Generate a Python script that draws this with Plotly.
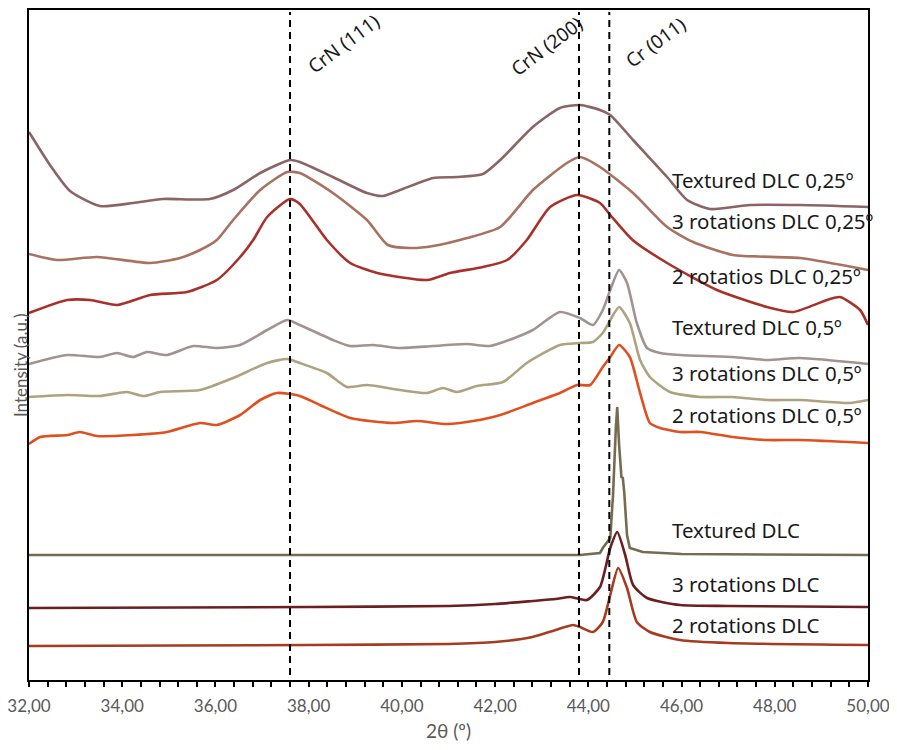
import plotly.graph_objects as go

# ---------------- data (2θ in degrees, intensity in arbitrary units) ----------------
tex025_x = [32.00, 32.45, 32.88, 33.52, 34.23, 34.87, 35.88, 36.38, 36.96, 37.60, 37.81, 38.52, 39.25, 39.60,
            39.96, 40.67, 41.18, 41.74, 42.11, 42.81, 43.39, 43.82, 44.25, 44.47, 44.96, 45.69, 46.12, 46.61,
            47.47, 48.54, 50.00]
tex025_y = [548, 515, 489, 474, 477, 481, 481, 490, 507, 520, 518, 503, 487, 484,
            490, 502, 503, 506, 520, 553, 572, 575, 570, 565, 540, 503, 480, 471,
            475, 475, 473]

rot3025_x = [32.00, 32.60, 33.46, 34.60, 35.24, 35.67, 36.03, 36.38, 36.96, 37.54, 37.81, 38.52, 39.25, 39.70,
             40.17, 40.67, 41.40, 42.11, 42.81, 43.54, 43.82, 44.25, 44.96, 45.69, 46.25, 47.10, 48.54, 50.00]
rot3025_y = [426, 420, 423, 417, 422, 430, 440, 460, 490, 508, 507, 487, 460, 435,
             432, 434, 442, 453, 490, 517, 523, 513, 487, 453, 438, 425, 422, 410]

rot2025_x = [32.00, 32.82, 33.31, 33.89, 34.60, 35.39, 36.03, 36.53, 36.81, 37.11, 37.60, 37.81, 38.39, 38.89,
             39.47, 40.54, 41.03, 41.74, 42.26, 42.68, 43.18, 43.76, 44.25, 44.47, 44.95, 45.69, 46.76, 47.83,
             48.39, 49.12, 49.40, 49.83, 50.00]
rot2025_y = [367, 380, 380, 375, 385, 388, 400, 423, 440, 463, 481, 476, 440, 417,
             407, 400, 407, 413, 420, 440, 473, 485, 477, 465, 440, 417, 390, 373,
             368, 380, 383, 370, 355]

tex05_x = [32.00, 32.82, 33.52, 33.89, 34.23, 34.53, 34.96, 35.52, 36.03, 36.53, 37.11, 37.54, 37.81, 38.52,
           38.89, 39.38, 39.96, 40.67, 41.40, 41.89, 42.47, 42.81, 43.39, 43.82, 44.10, 44.31, 44.47, 44.66,
           44.83, 45.04, 45.26, 45.54, 45.97, 47.10, 47.83, 48.54, 50.00]
tex05_y = [316, 325, 323, 327, 323, 328, 325, 334, 332, 335, 350, 360, 355, 340,
           334, 335, 332, 334, 336, 334, 343, 350, 368, 362, 355, 370, 390, 410,
           397, 357, 332, 327, 325, 323, 320, 322, 316]

rot305_x = [32.00, 32.82, 33.52, 34.10, 34.45, 34.81, 35.67, 36.38, 37.11, 37.54, 37.81, 38.39, 38.82, 39.25,
            39.96, 40.54, 40.88, 41.18, 41.61, 42.17, 42.68, 43.39, 43.82, 44.10, 44.31, 44.47, 44.66, 44.89,
            45.11, 45.32, 45.75, 46.40, 47.10, 47.83, 48.54, 49.61, 50.00]
rot305_y = [283, 285, 284, 288, 284, 288, 290, 302, 317, 321, 317, 307, 293, 295,
            290, 287, 292, 288, 294, 298, 317, 335, 337, 338, 347, 360, 373, 357,
            320, 303, 288, 283, 283, 280, 280, 277, 280]

rot205_x = [32.00, 32.24, 32.82, 33.09, 33.46, 34.23, 34.96, 35.67, 36.03, 36.53, 36.96, 37.32, 37.81, 38.24,
            38.89, 39.81, 40.32, 40.97, 41.53, 42.11, 42.81, 43.39, 43.76, 44.04, 44.31, 44.47, 44.66, 44.89,
            45.11, 45.32, 45.54, 45.97, 46.40, 47.10, 47.83, 48.54, 50.00]
rot205_y = [236, 243, 245, 248, 244, 245, 248, 257, 255, 265, 280, 287, 284, 275,
            262, 257, 259, 256, 259, 265, 277, 287, 295, 295, 313, 323, 335, 323,
            287, 257, 252, 248, 248, 243, 240, 240, 237]

tex_x = [32.00, 40.00, 43.00, 43.82, 44.25, 44.31, 44.47, 44.53, 44.59, 44.62, 44.66,
         44.71, 44.74, 44.77, 44.83, 44.89, 45.17, 46.00, 50.00]
tex_y = [125, 125, 125, 125, 127, 132, 142, 185, 252, 273, 235,
         203, 202, 188, 145, 132, 128, 126, 125]

rot3_x = [32.00, 38.00, 41.00, 42.00, 42.80, 43.30, 43.60, 43.97, 44.25, 44.47, 44.62, 44.79, 44.96, 45.26,
          45.97, 47.00, 50.00]
rot3_y = [72, 73, 74, 76, 79, 81, 83, 80, 93, 132, 148, 125, 95, 82,
          75, 74, 73]

rot2_x = [32.00, 38.00, 41.00, 42.00, 42.80, 43.30, 43.67, 43.82, 44.10, 44.31, 44.47, 44.64, 44.83, 45.04,
          45.32, 45.97, 47.00, 50.00]
rot2_y = [34, 35, 36, 38, 43, 50, 55, 53, 48, 58, 85, 112, 92, 58,
          48, 40, 37, 35]

series_names = ["Textured DLC 0,25º", "3 rotations DLC 0,25º", "2 rotatios DLC 0,25º",
                "Textured DLC 0,5º", "3 rotations DLC 0,5º", "2 rotations DLC 0,5º",
                "Textured DLC", "3 rotations DLC", "2 rotations DLC"]
series_x = [tex025_x, rot3025_x, rot2025_x, tex05_x, rot305_x, rot205_x, tex_x, rot3_x, rot2_x]
series_y = [tex025_y, rot3025_y, rot2025_y, tex05_y, rot305_y, rot205_y, tex_y, rot3_y, rot2_y]
label_y = [500, 459, 404, 353, 307, 265, 150, 96, 55]

peak_names = ["CrN (111)", "CrN (200)", "Cr (011)"]
peak_pos = [37.60, 43.80, 44.45]
peak_label_x = [38.74, 43.11, 45.45]
peak_label_y = [636, 634, 638]

tick_vals = [32, 34, 36, 38, 40, 42, 44, 46, 48, 50]
tick_text = ["32,00", "34,00", "36,00", "38,00", "40,00", "42,00", "44,00", "46,00", "48,00", "50,00"]

# ---------------- styles ----------------
colors = ["#8C6466", "#A87160", "#A8322A", "#A29292", "#AFA27F", "#E0501F", "#756B50", "#6B1F1F", "#A63B1F"]
AXFONT = "Lato"
LBLFONT = "Noto Sans"

fig = go.Figure()
for i, (name, xs, ys) in enumerate(zip(series_names, series_x, series_y)):
    shape = "linear" if i == 6 else "spline"
    fig.add_trace(go.Scatter(
        x=xs, y=ys, mode="lines", name=name,
        line=dict(color=colors[i], width=2.6, shape=shape, smoothing=0.6),
        showlegend=False, hoverinfo="skip"))

for p in peak_pos:
    fig.add_shape(type="line", xref="x", yref="y", x0=p, x1=p, y0=5, y1=668,
                  line=dict(color="black", width=2, dash="7px,5px"))

for name, xl, yl in zip(peak_names, peak_label_x, peak_label_y):
    fig.add_annotation(x=xl, y=yl, xref="x", yref="y", text=name, showarrow=False,
                       textangle=-37, font=dict(family=LBLFONT, size=19, color="#1a1a1a"))

for name, yl in zip(series_names, label_y):
    fig.add_annotation(x=45.75, y=yl, xref="x", yref="y", text=name, showarrow=False,
                       xanchor="left", yanchor="middle",
                       font=dict(family=LBLFONT, size=20.5, color="#1a1a1a"))

fig.add_annotation(x=-0.0107, y=314, xref="paper", yref="y", text="Intensity (a.u.)",
                   showarrow=False, textangle=-90, xanchor="center", yanchor="middle",
                   font=dict(family=AXFONT, size=17, color="#595959"))

fig.update_layout(
    width=881, height=734,
    margin=dict(l=21, r=21, t=2, b=62, autoexpand=False),
    plot_bgcolor="white", paper_bgcolor="white",
    font=dict(family=AXFONT, color="#595959"),
)
fig.update_xaxes(
    range=[32, 50], tickvals=tick_vals, ticktext=tick_text,
    ticks="outside", ticklen=5, tickwidth=1.5, tickcolor="black",
    minor=dict(tick0=32, dtick=0.4, ticks="outside", ticklen=5, tickwidth=1.5, tickcolor="black"),
    showline=True, linecolor="black", linewidth=2, mirror=True,
    showgrid=False, zeroline=False, automargin=False,
    ticklabeloverflow="allow", ticklabelstandoff=5,
    tickfont=dict(family=AXFONT, size=17, color="#595959"),
    title=dict(text="2θ (º)", font=dict(family=AXFONT, size=19, color="#595959"), standoff=20),
)
fig.update_yaxes(
    range=[0, 670], showticklabels=False, ticks="",
    showline=True, linecolor="black", linewidth=2, mirror=True,
    showgrid=False, zeroline=False, automargin=False,
)

fig.write_html("out.html")
